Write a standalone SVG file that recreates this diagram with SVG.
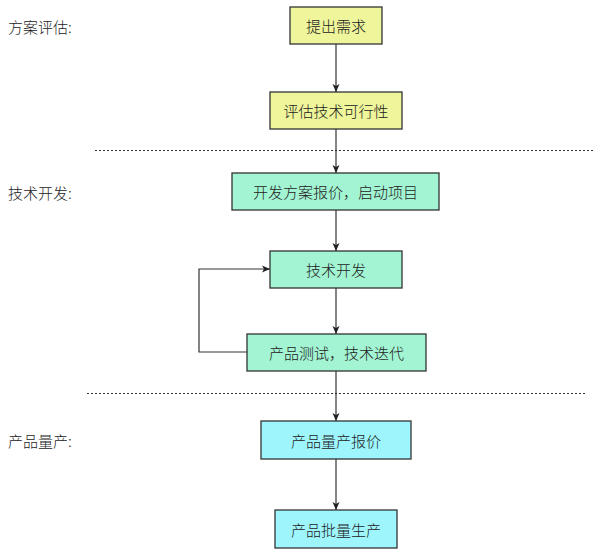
<svg xmlns="http://www.w3.org/2000/svg" width="600" height="555" viewBox="0 0 600 555">
<defs>
<style>
text{font-family:"Noto Sans CJK SC","Liberation Serif",serif;font-size:15px;font-weight:300;fill:#222;}
.box text{text-anchor:middle;dominant-baseline:central;}
.box rect{stroke:#333;stroke-width:1.3;}
.y rect{fill:#eef59a;}
.g rect{fill:#a2f4d2;}
.c rect{fill:#9ef6fc;}
.lbl{dominant-baseline:central;}
.sep{stroke:#333;stroke-width:1;stroke-dasharray:2,2;fill:none;}
#connectors path{stroke:#333;stroke-width:1.2;fill:none;marker-end:url(#ah);}
</style>
<marker id="ah" viewBox="0 0 8 10" refX="8" refY="5" markerWidth="8" markerHeight="10" markerUnits="userSpaceOnUse" orient="auto">
<path d="M0,1.5 L8,5 L0,8.5 L2,5 Z" fill="#222"/>
</marker>
</defs>
<rect width="600" height="555" fill="#fff"/>
<g id="labels">
<text class="lbl" x="8" y="26">方案评估:</text>
<text class="lbl" x="8" y="192">技术开发:</text>
<text class="lbl" x="8" y="440">产品量产:</text>
</g>
<g id="separators">
<line class="sep" x1="95" y1="150.5" x2="595" y2="150.5"/>
<line class="sep" x1="87" y1="393.5" x2="585" y2="393.5"/>
</g>
<g id="connectors">
<path d="M336,44 V92"/>
<path d="M336,129 V173"/>
<path d="M336,210 V251"/>
<path d="M336,288 V334"/>
<path d="M247,352 H199 V269 H270"/>
<path d="M336,371 V421"/>
<path d="M336,459 V510"/>
</g>
<g id="n1" class="box y"><rect x="290" y="7" width="92" height="37"/><text x="336" y="25.5">提出需求</text></g>
<g id="n2" class="box y"><rect x="270" y="92" width="132" height="37"/><text x="336" y="110.5">评估技术可行性</text></g>
<g id="n3" class="box g"><rect x="232" y="173" width="207" height="37"/><text x="335.5" y="191.5">开发方案报价，启动项目</text></g>
<g id="n4" class="box g"><rect x="270" y="251" width="132" height="37"/><text x="336" y="269.5">技术开发</text></g>
<g id="n5" class="box g"><rect x="247" y="334" width="179" height="37"/><text x="336.5" y="352.5">产品测试，技术迭代</text></g>
<g id="n6" class="box c"><rect x="261" y="421" width="150" height="38"/><text x="336" y="440">产品量产报价</text></g>
<g id="n7" class="box c"><rect x="275" y="510" width="122" height="38"/><text x="336" y="529">产品批量生产</text></g>
</svg>
